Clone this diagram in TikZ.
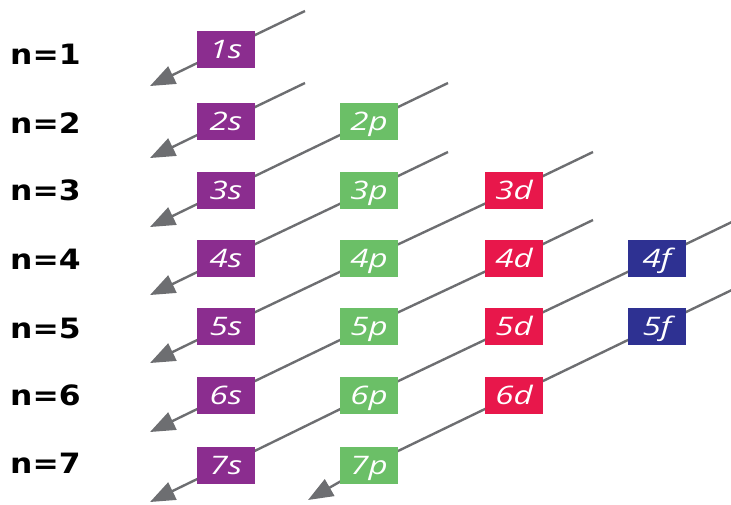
\documentclass[tikz,border=0pt]{standalone}
\usepackage{fontspec}
\usetikzlibrary{arrows.meta,calc,backgrounds}
\newfontfamily\levelfont[FakeStretch=1.12]{DejaVu Sans}
\newfontfamily\orbfont[FakeStretch=1.3]{Open Sans}
\definecolor{sorb}{HTML}{8B2D8F}
\definecolor{porb}{HTML}{6BBF67}
\definecolor{dorb}{HTML}{E8174B}
\definecolor{forb}{HTML}{2E3192}
\definecolor{linegray}{HTML}{6D6E71}
\tikzset{orbbox/.style={rectangle, inner sep=0pt, minimum width=58pt,
  minimum height=37pt, text height=18pt, text depth=0pt, text=white,
  font=\orbfont\itshape\fontsize{25.5}{25.5}\selectfont},
  levellabel/.style={anchor=base west, inner sep=0pt,
  font=\levelfont\bfseries\fontsize{28}{28}\selectfont},
  diagarrow/.style={-{Triangle[length=25pt,width=19pt]}, line width=2.4pt, linegray}}

\begin{document}
\begin{tikzpicture}[x=1pt, y=-1pt]
    \useasboundingbox (0,0) rectangle (731,504);
    % shell labels
    \node[levellabel] (n1) at (10,64) {n=1};
    \node[levellabel] (n2) at (10,133) {n=2};
    \node[levellabel] (n3) at (10,200) {n=3};
    \node[levellabel] (n4) at (10,269) {n=4};
    \node[levellabel] (n5) at (10,338) {n=5};
    \node[levellabel] (n6) at (10,405) {n=6};
    \node[levellabel] (n7) at (10,473) {n=7};
    % s column
    \node[orbbox, fill=sorb] (o1s) at (226,49) {1s};
    \node[orbbox, fill=sorb] (o2s) at (226,121) {2s};
    \node[orbbox, fill=sorb] (o3s) at (226,190) {3s};
    \node[orbbox, fill=sorb] (o4s) at (226,258) {4s};
    \node[orbbox, fill=sorb] (o5s) at (226,326) {5s};
    \node[orbbox, fill=sorb] (o6s) at (226,395) {6s};
    \node[orbbox, fill=sorb] (o7s) at (226,465) {7s};
    % p column
    \node[orbbox, fill=porb] (o2p) at (369,121) {2p};
    \node[orbbox, fill=porb] (o3p) at (369,190) {3p};
    \node[orbbox, fill=porb] (o4p) at (369,258) {4p};
    \node[orbbox, fill=porb] (o5p) at (369,326) {5p};
    \node[orbbox, fill=porb] (o6p) at (369,395) {6p};
    \node[orbbox, fill=porb] (o7p) at (369,465) {7p};
    % d column
    \node[orbbox, fill=dorb] (o3d) at (514,190) {3d};
    \node[orbbox, fill=dorb] (o4d) at (514,258) {4d};
    \node[orbbox, fill=dorb] (o5d) at (514,326) {5d};
    \node[orbbox, fill=dorb] (o6d) at (514,395) {6d};
    % f column
    \node[orbbox, fill=forb] (o4f) at (657,258) {4f};
    \node[orbbox, fill=forb] (o5f) at (657,326) {5f};
    % filling order diagonals
    \coordinate (a1) at ($(o1s)+(79,-38)$);
    \coordinate (a2) at ($(o2s)+(79,-38)$);
    \coordinate (a3) at ($(o2p)+(79,-38)$);
    \coordinate (a4) at ($(o3p)+(79,-38)$);
    \coordinate (a5) at ($(o3d)+(79,-38)$);
    \coordinate (a6) at ($(o4d)+(79,-38)$);
    \coordinate (a7) at ($(o4f)+(79,-38)$);
    \coordinate (a8) at ($(o5f)+(79,-38)$);
    \coordinate (b1) at ($(o1s)+(-76,37)$);
    \coordinate (b2) at ($(o2s)+(-76,37)$);
    \coordinate (b3) at ($(o3s)+(-76,37)$);
    \coordinate (b4) at ($(o4s)+(-76,37)$);
    \coordinate (b5) at ($(o5s)+(-76,37)$);
    \coordinate (b6) at ($(o6s)+(-76,37)$);
    \coordinate (b7) at ($(o7s)+(-76,37)$);
    \coordinate (b8) at ($(o7p)+(-61,35)$);
    \begin{scope}[on background layer]
      \draw[diagarrow] (a1) -- (o1s.center) -- (b1);
      \draw[diagarrow] (a2) -- (o2s.center) -- (b2);
      \draw[diagarrow] (a3) -- (o2p.center) -- (o3s.center) -- (b3);
      \draw[diagarrow] (a4) -- (o3p.center) -- (o4s.center) -- (b4);
      \draw[diagarrow] (a5) -- (o3d.center) -- (o4p.center) -- (o5s.center) -- (b5);
      \draw[diagarrow] (a6) -- (o4d.center) -- (o5p.center) -- (o6s.center) -- (b6);
      \draw[diagarrow] (a7) -- (o4f.center) -- (o5d.center) -- (o6p.center) -- (o7s.center) -- (b7);
      \draw[diagarrow] (a8) -- (o5f.center) -- (o6d.center) -- (o7p.center) -- (b8);
    \end{scope}
  \end{tikzpicture}
\end{document}
